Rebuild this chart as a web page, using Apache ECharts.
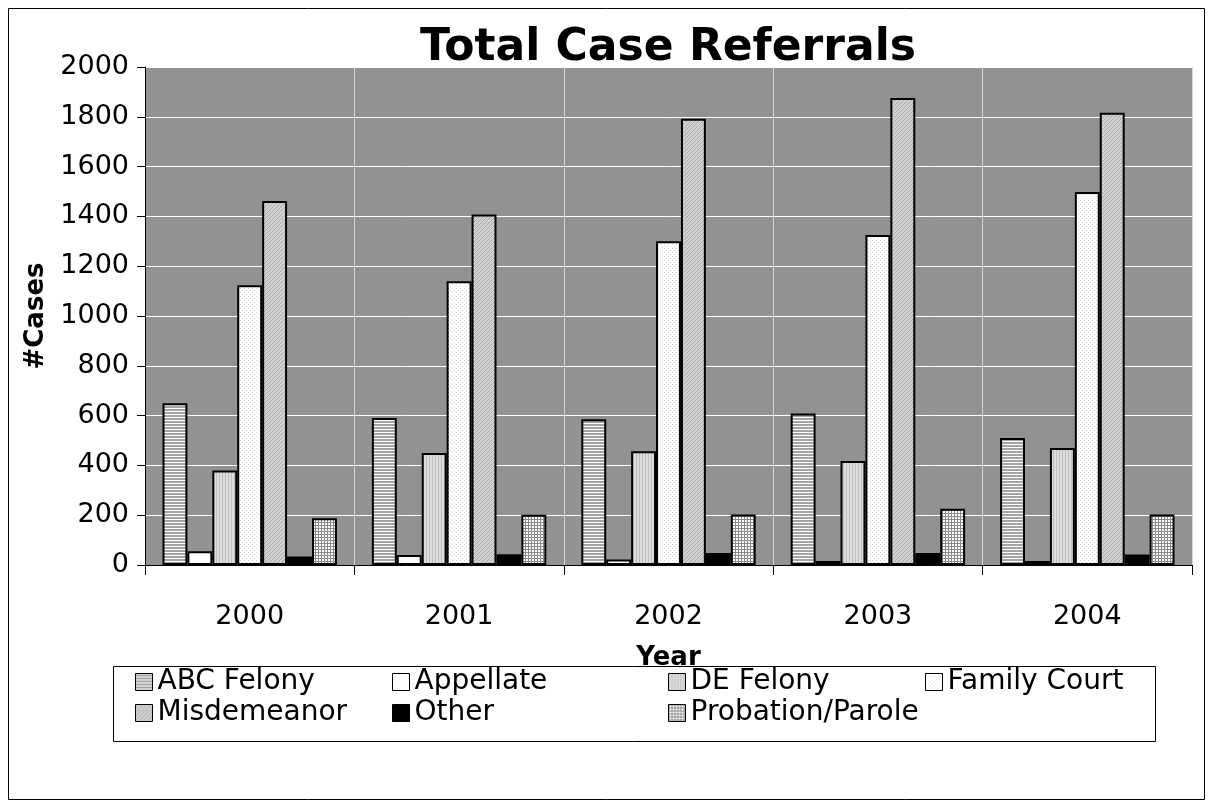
<!DOCTYPE html>
<html><head><meta charset="utf-8">
<script src="https://cdn.jsdelivr.net/npm/echarts@6/dist/echarts.min.js"></script>
<style>html,body{margin:0;padding:0;background:#fff}#c{width:1214px;height:810px}</style>
</head><body><div id="c"></div>
<script>
// ---- data ----
const years = ['2000', '2001', '2002', '2003', '2004'];
const abcFelony = [650, 590, 585, 608, 510];
const appellate = [55, 40, 22, 16, 16];
const deFelony = [380, 450, 457, 418, 470];
const familyCourt = [1123, 1140, 1300, 1325, 1498];
const misdemeanor = [1462, 1408, 1792, 1876, 1816];
const other = [34, 43, 48, 48, 42];
const probationParole = [188, 202, 203, 226, 203];
const yMin = 0, yMax = 2000, yStep = 200;

// ---- fill textures ----
function pat(w, h, draw) {
  const c = document.createElement('canvas'); c.width = w; c.height = h;
  const g = c.getContext('2d'); draw(g); return { image: c, repeat: 'repeat' };
}
const fills = {
  abc: pat(4, 3, g => { g.fillStyle = '#a4a4a4'; g.fillRect(0, 0, 4, 3); g.fillStyle = '#ffffff'; g.fillRect(0, 0, 4, 1); }),
  app: '#ffffff',
  de: pat(3, 4, g => { g.fillStyle = '#dddddd'; g.fillRect(0, 0, 3, 4); g.fillStyle = '#bdbdbd'; g.fillRect(0, 0, 1, 4); }),
  fam: pat(4, 4, g => { g.fillStyle = '#ffffff'; g.fillRect(0, 0, 4, 4); g.fillStyle = '#d4d4d4'; g.fillRect(0, 0, 1, 1); g.fillRect(2, 2, 1, 1); }),
  mis: pat(4, 4, g => { g.fillStyle = '#d0d0d0'; g.fillRect(0, 0, 4, 4); g.fillStyle = '#acacac'; for (let i = 0; i < 4; i++) g.fillRect(i, 3 - i, 1, 1); }),
  oth: '#000000',
  pro: pat(3, 3, g => { g.fillStyle = '#ffffff'; g.fillRect(0, 0, 3, 3); g.fillStyle = '#8a8a8a'; g.fillRect(0, 0, 3, 1); g.fillRect(0, 0, 1, 3); })
};

const FONT = '"DejaVu Sans", "Liberation Sans", Arial, sans-serif';
function bar(name, data, color) {
  return {
    name, type: 'bar', data, barGap: '0%', barCategoryGap: '16.7%',
    itemStyle: { color, borderColor: '#000', borderWidth: 2 },
    emphasis: { disabled: true }, animation: false
  };
}
const legendText = { fontFamily: FONT, fontSize: 28, color: '#000', lineHeight: 28 };
function leg(names, left) {
  return {
    data: names.map(n => ({ name: n, icon: 'rect' })), left, top: 668, orient: 'vertical', itemGap: 3,
    itemWidth: 17, itemHeight: 17, selectedMode: false,
    itemStyle: { borderColor: '#000', borderWidth: 1 },
    textStyle: legendText, padding: 0
  };
}

const chart = echarts.init(document.getElementById('c'), null, { renderer: 'canvas' });
chart.setOption({
  backgroundColor: '#ffffff',
  animation: false,
  title: {
    text: 'Total Case Referrals', left: 668, top: 27, textAlign: 'center', padding: 0,
    textStyle: { fontFamily: FONT, fontSize: 44, fontWeight: 'bold', color: '#000' }
  },
  graphic: [
    { type: 'rect', shape: { x: 8.5, y: 8.5, width: 1196, height: 791 }, style: { fill: 'none', stroke: '#000', lineWidth: 1 }, z: -1 },
    { type: 'rect', shape: { x: 113.5, y: 666.5, width: 1042, height: 75 }, style: { fill: 'none', stroke: '#000', lineWidth: 1 }, z: -1 }
  ],
  legend: [
    leg(['ABC Felony', 'Misdemeanor'], 135),
    leg(['Appellate', 'Other'], 392),
    leg(['DE Felony', 'Probation/Parole'], 668),
    leg(['Family Court'], 925)
  ],
  grid: { left: 145, right: 22, top: 67, bottom: 245, show: true, backgroundColor: '#929292', borderWidth: 0, containLabel: false },
  xAxis: {
    type: 'category', data: years,
    axisLine: { show: true, lineStyle: { color: '#000', width: 1 } },
    axisTick: { show: true, length: 10, lineStyle: { color: '#000' } },
    axisLabel: { fontFamily: FONT, fontSize: 27, color: '#000', margin: 38 },
    splitLine: { show: true, interval: 0, lineStyle: { color: '#d9d9d9', width: 1 } },
    name: 'Year', nameLocation: 'middle', nameGap: 80,
    nameTextStyle: { fontFamily: FONT, fontSize: 26, fontWeight: 'bold', color: '#000' }
  },
  yAxis: {
    type: 'value', min: yMin, max: yMax, interval: yStep,
    axisLine: { show: true, lineStyle: { color: '#000', width: 1 } },
    axisTick: { show: true, length: 8, lineStyle: { color: '#000' } },
    axisLabel: { fontFamily: FONT, fontSize: 27, color: '#000', margin: 16, formatter: v => String(v) },
    splitLine: { show: true, lineStyle: { color: '#ffffff', width: 1 } },
    name: '#Cases', nameLocation: 'middle', nameGap: 91, nameRotate: 90,
    nameTextStyle: { fontFamily: FONT, fontSize: 26, fontWeight: 'bold', color: '#000' }
  },
  series: [
    bar('ABC Felony', abcFelony, fills.abc),
    bar('Appellate', appellate, fills.app),
    bar('DE Felony', deFelony, fills.de),
    bar('Family Court', familyCourt, fills.fam),
    bar('Misdemeanor', misdemeanor, fills.mis),
    bar('Other', other, fills.oth),
    bar('Probation/Parole', probationParole, fills.pro)
  ]
});
</script></body></html>
